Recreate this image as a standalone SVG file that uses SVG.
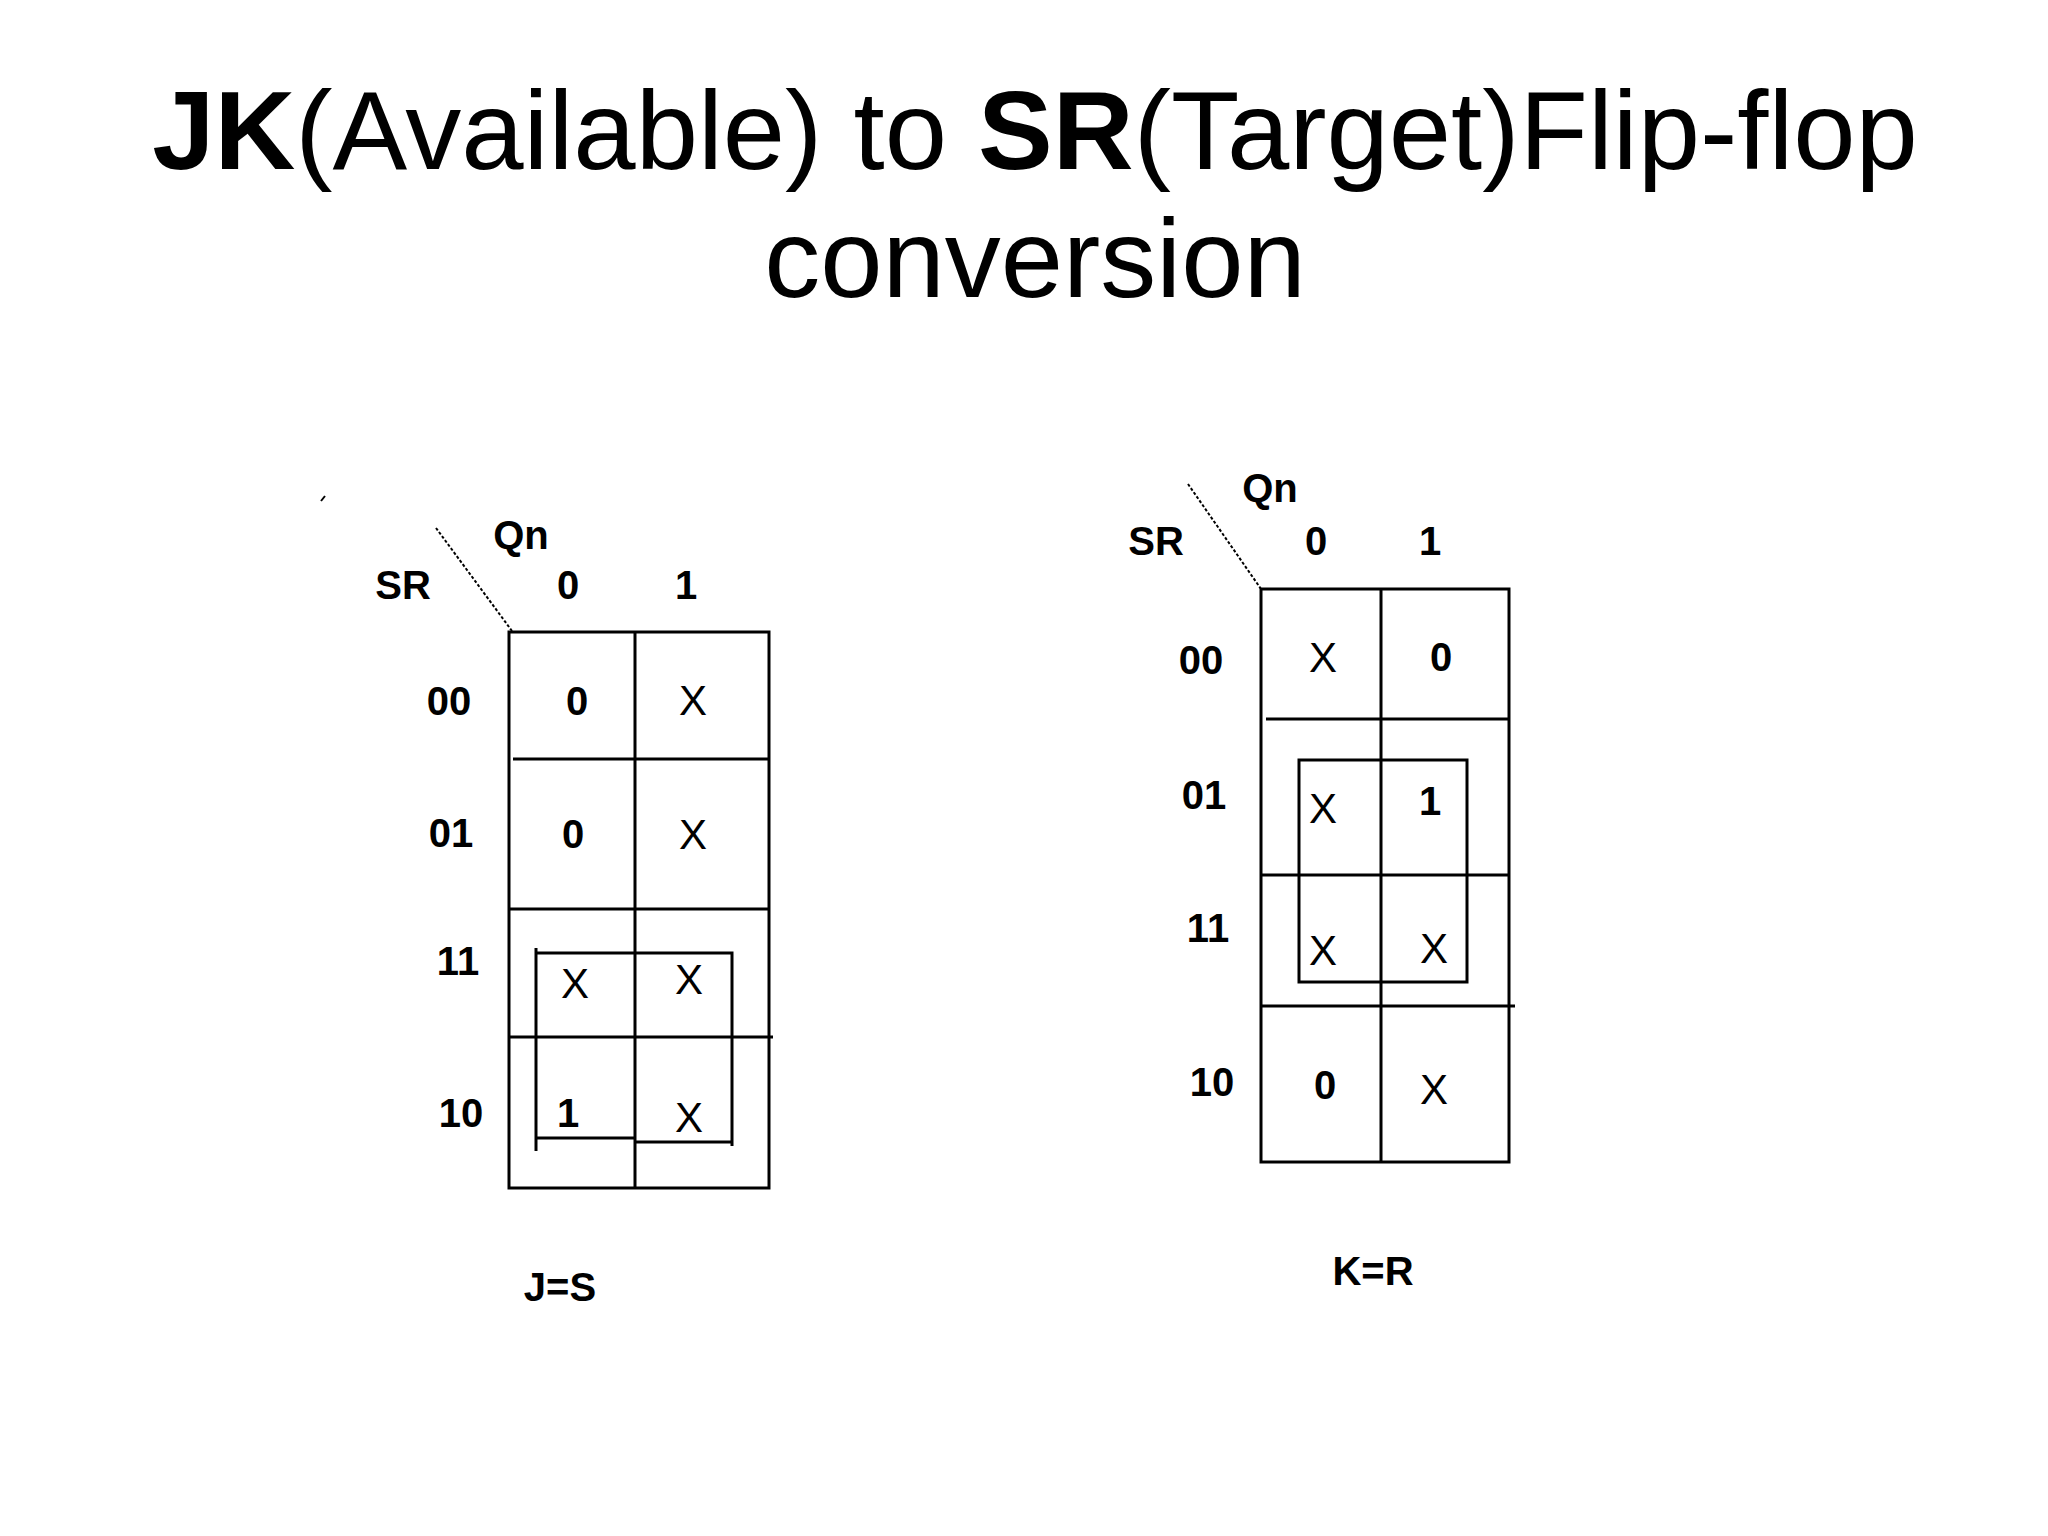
<svg xmlns="http://www.w3.org/2000/svg" width="2048" height="1536" viewBox="0 0 2048 1536">
<style>
.t{font-family:"Liberation Sans",Arial,sans-serif;fill:#000}
.title{font-size:112px;text-anchor:middle}
.l{font-size:40px;font-weight:bold;text-anchor:middle;dominant-baseline:central}
.v{font-size:42px;text-anchor:middle;dominant-baseline:central}
.g{fill:none;stroke:#000;stroke-width:3}
.thin{fill:none;stroke:#000;stroke-width:2}
</style>
<rect width="2048" height="1536" fill="#fff"/>
<g id="title">
<text class="t title" x="1035" y="169"><tspan font-weight="bold">JK</tspan>(Available) to <tspan font-weight="bold">SR</tspan>(Target)Flip-flop</text>
<text class="t title" x="1035" y="297">conversion</text>
</g>
<g id="kmap-j">
<line class="thin" x1="321" y1="501" x2="325" y2="496"/>
<line class="thin" x1="436" y1="528" x2="512" y2="631" stroke-dasharray="3,2"/>
<rect class="g" x="509" y="632" width="260" height="556"/>
<line class="g" x1="635" y1="632" x2="635" y2="1188"/>
<line class="g" x1="513" y1="759" x2="769" y2="759"/>
<line class="g" x1="509" y1="909" x2="769" y2="909"/>
<line class="g" x1="509" y1="1037" x2="773" y2="1037"/>
<polyline class="g" points="536,953 732,953 732,1146"/>
<line class="g" x1="536" y1="948" x2="536" y2="1151"/>
<line class="g" x1="536" y1="1138" x2="635" y2="1138"/>
<line class="g" x1="635" y1="1142" x2="732" y2="1142"/>
<text class="t l" x="521" y="535">Qn</text>
<text class="t l" x="403" y="585">SR</text>
<text class="t l" x="568" y="585">0</text>
<text class="t l" x="686" y="585">1</text>
<text class="t l" x="449" y="701">00</text>
<text class="t l" x="451" y="833">01</text>
<text class="t l" x="458" y="961">11</text>
<text class="t l" x="461" y="1113">10</text>
<text class="t l" x="577" y="701">0</text>
<text class="t v" x="693" y="700">X</text>
<text class="t l" x="573" y="834">0</text>
<text class="t v" x="693" y="834">X</text>
<text class="t v" x="575" y="983">X</text>
<text class="t v" x="689" y="979">X</text>
<text class="t l" x="568" y="1113">1</text>
<text class="t v" x="689" y="1117">X</text>
<text class="t l" x="560" y="1287">J=S</text>
</g>
<g id="kmap-k">
<line class="thin" x1="1188" y1="484" x2="1261" y2="589" stroke-dasharray="3,2"/>
<rect class="g" x="1261" y="589" width="248" height="573"/>
<line class="g" x1="1381" y1="589" x2="1381" y2="1162"/>
<line class="g" x1="1266" y1="719" x2="1509" y2="719"/>
<line class="g" x1="1261" y1="875" x2="1509" y2="875"/>
<line class="g" x1="1261" y1="1006" x2="1515" y2="1006"/>
<rect class="g" x="1299" y="760" width="168" height="222"/>
<text class="t l" x="1270" y="488">Qn</text>
<text class="t l" x="1156" y="541">SR</text>
<text class="t l" x="1316" y="541">0</text>
<text class="t l" x="1430" y="541">1</text>
<text class="t l" x="1201" y="660">00</text>
<text class="t l" x="1204" y="795">01</text>
<text class="t l" x="1208" y="928">11</text>
<text class="t l" x="1212" y="1082">10</text>
<text class="t v" x="1323" y="657">X</text>
<text class="t l" x="1441" y="657">0</text>
<text class="t v" x="1323" y="808">X</text>
<text class="t l" x="1430" y="801">1</text>
<text class="t v" x="1323" y="950">X</text>
<text class="t v" x="1434" y="948">X</text>
<text class="t l" x="1325" y="1085">0</text>
<text class="t v" x="1434" y="1089">X</text>
<text class="t l" x="1373" y="1271">K=R</text>
</g>
</svg>
